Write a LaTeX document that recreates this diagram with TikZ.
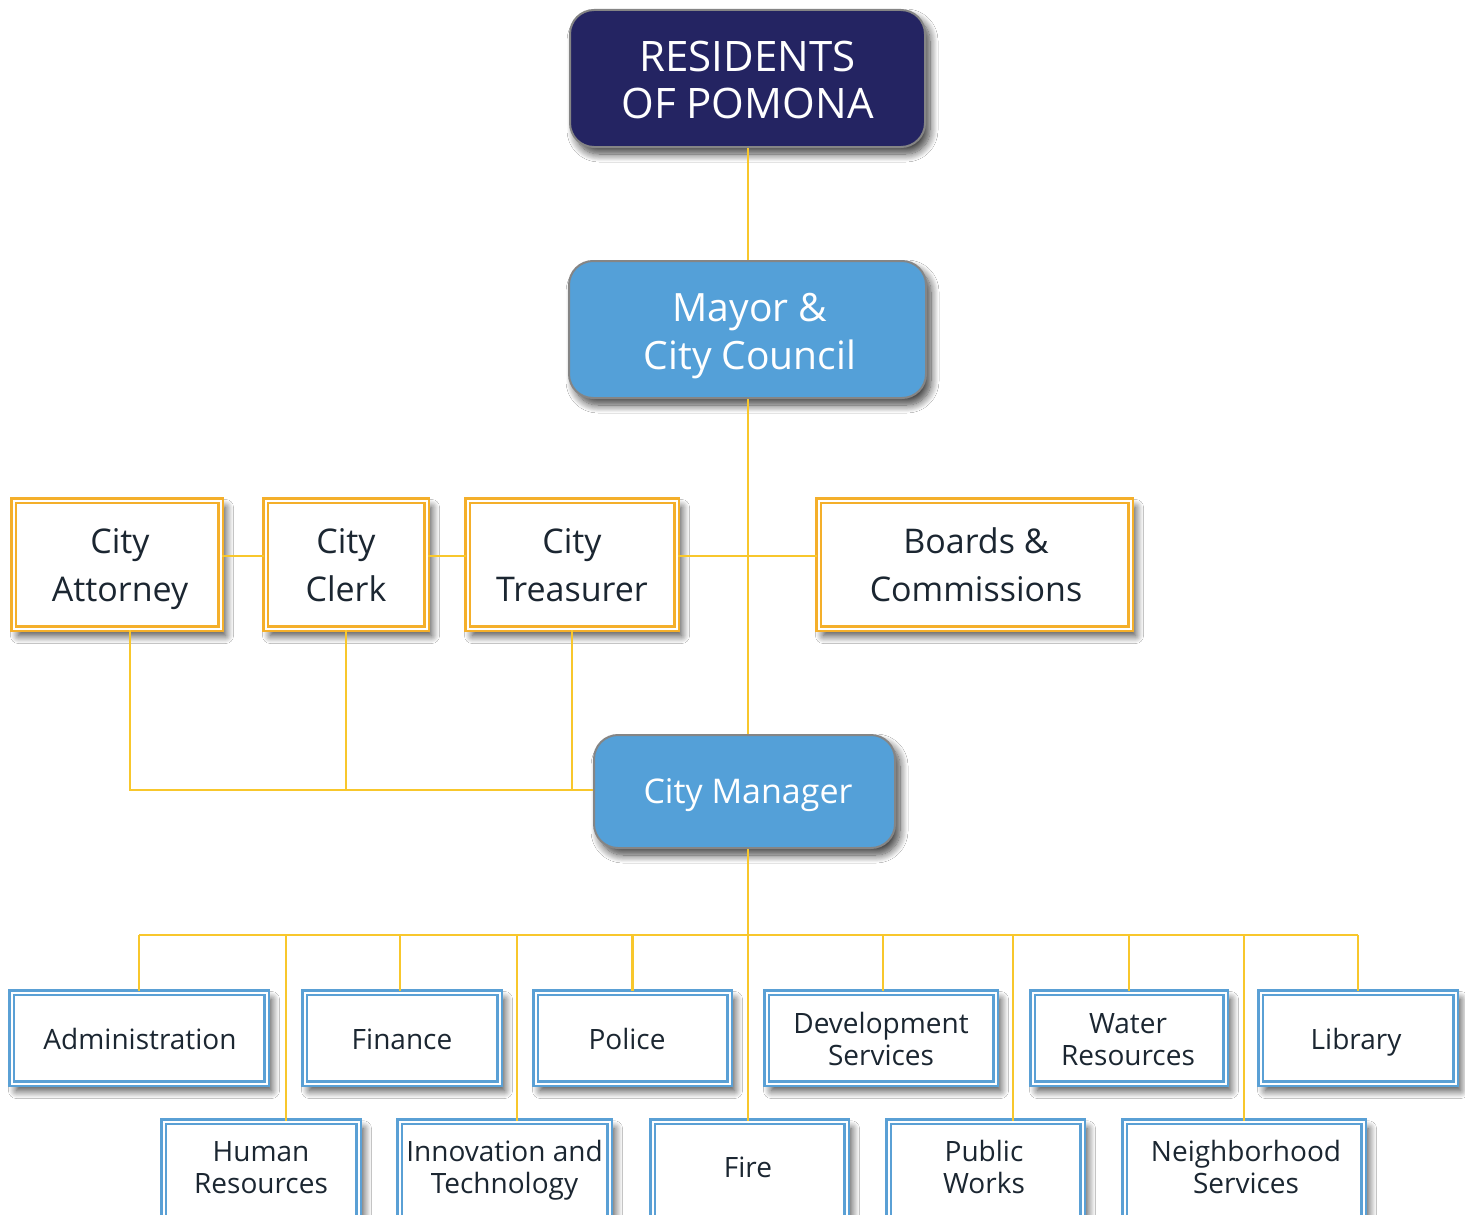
\documentclass[tikz,border=0pt]{standalone}
\usepackage{fontspec}
\setmainfont{Open Sans}
\usetikzlibrary{shadows.blur}
\definecolor{navy}{HTML}{242462}
\definecolor{sky}{HTML}{54A0D8}
\definecolor{gold}{HTML}{F4AF2A}
\definecolor{wire}{HTML}{F8C72C}
\definecolor{ink}{HTML}{1B2631}
\definecolor{edge}{HTML}{858585}
\definecolor{rowblue}{HTML}{5AA0D5}
\begin{document}
\begin{tikzpicture}[x=1pt,y=-1pt,
  wireline/.style={draw=wire, line width=2.6pt},
  softshadow/.style={blur shadow={shadow xshift=5pt, shadow yshift=-7pt, shadow opacity=75, shadow blur radius=8pt, shadow blur steps=12}},
  pill/.style={rounded corners=24pt, draw=edge, line width=2pt, inner sep=0pt, softshadow},
  dbox/.style={draw, double=white, double distance=2pt, line width=2.5pt, fill=white, inner sep=0pt, softshadow},
  tierbox/.style={dbox, draw=gold, minimum height=128pt},
  rowbox/.style={dbox, draw=rowblue, minimum height=91pt},
  lowbox/.style={dbox, draw=rowblue, minimum height=120pt, anchor=north},
  wtext/.style={text=white, align=center, inner sep=0pt},
  tiertext/.style={text=ink, align=center, inner sep=0pt, font=\fontsize{34}{48}\selectfont},
  rowtext/.style={text=ink, align=center, inner sep=0pt, font=\fontsize{28}{32}\selectfont},
]
\useasboundingbox[fill=white] (0,0) rectangle (1465,1215);
\coordinate (hy) at (0,556);
\coordinate (mgy) at (0,790);
\coordinate (bus) at (0,935);
\coordinate (midx) at (748,0);
\coordinate (attx) at (130,0);
\coordinate (finx) at (400,0);
\coordinate (devx) at (883,0);
\coordinate (hrx) at (286,0);
\coordinate (itx) at (517,0);
\coordinate (pwx) at (1013,0);

% boxes
\node[pill, fill=navy, minimum width=355pt, minimum height=137pt] (res) at (747.5,78.5) {};
\node[pill, fill=sky, minimum width=357pt, minimum height=137pt] (mayor) at (747.5,329.5) {};
\node[pill, fill=sky, minimum width=301pt, minimum height=113pt] (mgr) at (744.5,791.5) {};

\node[tierbox, minimum width=207pt] (att) at (117,564.5) {};
\node[tierbox, minimum width=161pt] (clerk) at (346,564.5) {};
\node[tierbox, minimum width=209pt] (treas) at (572,564.5) {};
\node[tierbox, minimum width=312pt] (boards) at (974.5,564.5) {};

\node[rowbox, minimum width=255pt] (adm) at (139,1038) {};
\node[rowbox, minimum width=195pt] (fin) at (402,1038) {};
\node[rowbox, minimum width=194pt] (pol) at (632.5,1038) {};
\node[rowbox, minimum width=229pt] (dev) at (881,1038) {};
\node[rowbox, minimum width=193pt] (wat) at (1129,1038) {};
\node[rowbox, minimum width=195pt] (lib) at (1358,1038) {};

\node[lowbox, minimum width=195pt] (hr) at (261,1120.5) {};
\node[lowbox, minimum width=210pt] (it) at (504.5,1120.5) {};
\node[lowbox, minimum width=194pt] (fire) at (749.5,1120.5) {};
\node[lowbox, minimum width=194pt] (pw) at (985.5,1120.5) {};
\node[lowbox, minimum width=239pt] (nb) at (1244,1120.5) {};

% texts
\node[wtext, font=\fontsize{42}{47}\selectfont] (rest) at (747.5,86) {\strut RESIDENTS\\\strut OF POMONA};
\node[wtext, font=\fontsize{39}{48}\selectfont] (mayort) at (750,335.5) {\strut Mayor \&\\\strut City Council};
\node[wtext, font=\fontsize{34}{40}\selectfont] (mgrt) at (748,795) {\strut City Manager};

\node[tiertext] (attt) at (120,567.5) {\strut City\\\strut Attorney};
\node[tiertext] (clerkt) at (346,567.5) {\strut City\\\strut Clerk};
\node[tiertext] (treast) at (572,567.5) {\strut City\\\strut Treasurer};
\node[tiertext] (boardst) at (976,567.5) {\strut Boards \&\\\strut Commissions};

\node[rowtext] (admt) at (140,1042.6) {\strut Administration};
\node[rowtext] (fint) at (402,1042.6) {\strut Finance};
\node[rowtext] (polt) at (627,1042.6) {\strut Police};
\node[rowtext] (devt) at (881,1042.6) {\strut Development\\\strut Services};
\node[rowtext] (watt) at (1128,1042.6) {\strut Water\\\strut Resources};
\node[rowtext] (libt) at (1356,1042.6) {\strut Library};

\node[rowtext] (hrt) at (261,1170.6) {\strut Human\\\strut Resources};
\node[rowtext] (itt) at (504.5,1170.6) {\strut Innovation and\\\strut Technology};
\node[rowtext] (firet) at (748,1170.6) {\strut Fire};
\node[rowtext] (pwt) at (984,1170.6) {\strut Public\\\strut Works};
\node[rowtext] (nbt) at (1246,1170.6) {\strut Neighborhood\\\strut Services};

% connectors
\draw[wireline] (res.south -| midx) -- (mayor.north -| midx);
\draw[wireline] (mayor.south -| midx) -- (mgr.north -| midx);
\draw[wireline] (att.east |- hy) -- (clerk.west |- hy);
\draw[wireline] (clerk.east |- hy) -- (treas.west |- hy);
\draw[wireline] (treas.east |- hy) -- (boards.west |- hy);
\draw[wireline] (att.south -| attx) |- (mgr.west |- mgy);
\draw[wireline] (clerk.south) -- (clerk.south |- mgy);
\draw[wireline] (treas.south) -- (treas.south |- mgy);
\draw[wireline] (mgr.south -| midx) -- (midx |- bus);
\draw[wireline] (adm.north |- bus) -- (lib.north |- bus);
\draw[wireline] (adm.north |- bus) -- (adm.north);
\draw[wireline] (finx |- bus) -- (fin.north -| finx);
\draw[wireline] (pol.north |- bus) -- (pol.north);
\draw[wireline] (devx |- bus) -- (dev.north -| devx);
\draw[wireline] (wat.north |- bus) -- (wat.north);
\draw[wireline] (lib.north |- bus) -- (lib.north);
\draw[wireline] (hrx |- bus) -- (hr.north -| hrx);
\draw[wireline] (itx |- bus) -- (it.north -| itx);
\draw[wireline] (midx |- bus) -- (fire.north -| midx);
\draw[wireline] (pwx |- bus) -- (pw.north -| pwx);
\draw[wireline] (nb.north |- bus) -- (nb.north);
\end{tikzpicture}
\end{document}
